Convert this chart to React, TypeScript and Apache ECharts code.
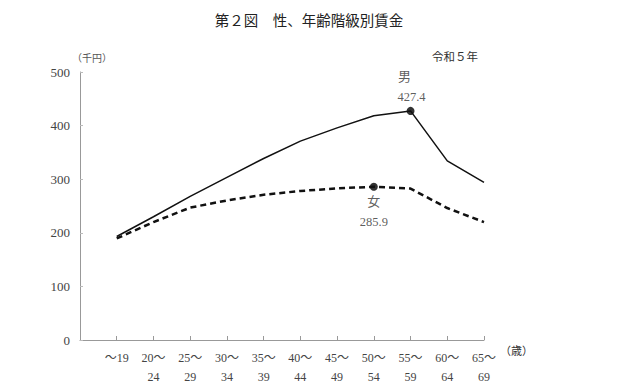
import React, { useEffect, useRef } from "react";
import * as echarts from "echarts";

const categories = ["", "～19", "20～\n24", "25～\n29", "30～\n34", "35～\n39", "40～\n44", "45～\n49", "50～\n54", "55～\n59", "60～\n64", "65～\n69"];
const maleValues = [null, 193.1, 229.9, 268.1, 303.4, 338.6, 371.1, 395.7, 418.3, 427.4, 334.1, 293.9];
const femaleValues = [null, 189.4, 220.0, 247.0, 260.3, 271.0, 278.0, 282.9, 285.9, 282.5, 246.2, 220.0];
const maleName = "男";
const femaleName = "女";
const malePeakIndex = 9;
const femalePeakIndex = 8;
const yTicks = [0, 100, 200, 300, 400, 500];

const serif = "'Liberation Serif', 'Noto Sans CJK JP', serif";
const gothic = "'Noto Sans CJK JP', sans-serif";

export default function App() {
  const ref = useRef<HTMLDivElement>(null);
  useEffect(() => {
    if (!ref.current) return;
    const chart = echarts.init(ref.current, undefined, { renderer: "svg" });
    chart.setOption({
      animation: false,
      backgroundColor: "#fff",
      title: {
        text: "第２図　性、年齢階級別賃金",
        left: "center",
        top: 7,
        textStyle: { fontFamily: gothic, fontSize: 14.5, fontWeight: "normal", color: "#222" },
      },
      graphic: [
        { type: "text", left: 72, top: 52, style: { text: "（千円）", font: `10px ${gothic}`, fill: "#555" } },
        { type: "text", left: 432, top: 51, style: { text: "令和５年", font: `11.5px ${serif}`, fill: "#333" } },
        { type: "text", left: 500, top: 345, style: { text: "（歳）", font: `11px ${serif}`, fill: "#333" } },
      ],
      grid: { left: 80, right: 134, top: 72, bottom: 52, containLabel: false },
      xAxis: {
        type: "category",
        data: categories,
        boundaryGap: false,
        axisLine: { lineStyle: { color: "#999", width: 1 } },
        axisTick: { inside: true, length: 4, lineStyle: { color: "#999" } },
        axisLabel: {
          interval: 0,
          margin: 8,
          fontFamily: serif,
          fontSize: 12,
          color: "#444",
          lineHeight: 19,
          align: "center",
        },
        splitLine: { show: false },
      },
      yAxis: {
        type: "value",
        min: yTicks[0],
        max: yTicks[yTicks.length - 1],
        interval: 100,
        axisLine: { show: true, lineStyle: { color: "#999", width: 1 } },
        axisTick: { show: true, inside: true, length: 3, lineStyle: { color: "#bbb" } },
        axisLabel: { fontFamily: serif, fontSize: 13, color: "#444", margin: 10 },
        splitLine: { show: false },
      },
      series: [
        {
          name: maleName,
          type: "line",
          data: maleValues,
          symbol: "none",
          lineStyle: { color: "#111", width: 1.5 },
        },
        {
          name: femaleName,
          type: "line",
          data: femaleValues,
          symbol: "none",
          lineStyle: { color: "#111", width: 2.5, type: [6, 4] },
        },
        {
          type: "scatter",
          data: [[malePeakIndex, maleValues[malePeakIndex]]],
          symbol: "circle",
          symbolSize: 8,
          itemStyle: { color: "#000" },
          label: {
            show: true,
            position: "top",
            distance: 0,
            color: "#333",
            formatter: (p: any) => `{a|${maleName}}\n{b|${p.value[1].toFixed(1)}}`,
            rich: {
              a: { fontFamily: serif, fontSize: 13, color: "#333", lineHeight: 20, padding: [0, 12, 0, 0] },
              b: { fontFamily: serif, fontSize: 12.5, color: "#333", lineHeight: 20, padding: [0, 0, 0, 2] },
            },
          },
        },
        {
          type: "scatter",
          data: [[femalePeakIndex, femaleValues[femalePeakIndex]]],
          symbol: "circle",
          symbolSize: 8,
          itemStyle: { color: "#000" },
          label: {
            show: true,
            position: "bottom",
            distance: 1,
            color: "#333",
            formatter: (p: any) => `{a|${femaleName}}\n{b|${p.value[1].toFixed(1)}}`,
            rich: {
              a: { fontFamily: serif, fontSize: 13, color: "#333", lineHeight: 20 },
              b: { fontFamily: serif, fontSize: 12.5, color: "#333", lineHeight: 20 },
            },
          },
        },
      ],
    });
    return () => chart.dispose();
  }, []);
  return <div ref={ref} style={{ position: "fixed", left: 0, top: 0, width: 618, height: 392 }} />;
}
